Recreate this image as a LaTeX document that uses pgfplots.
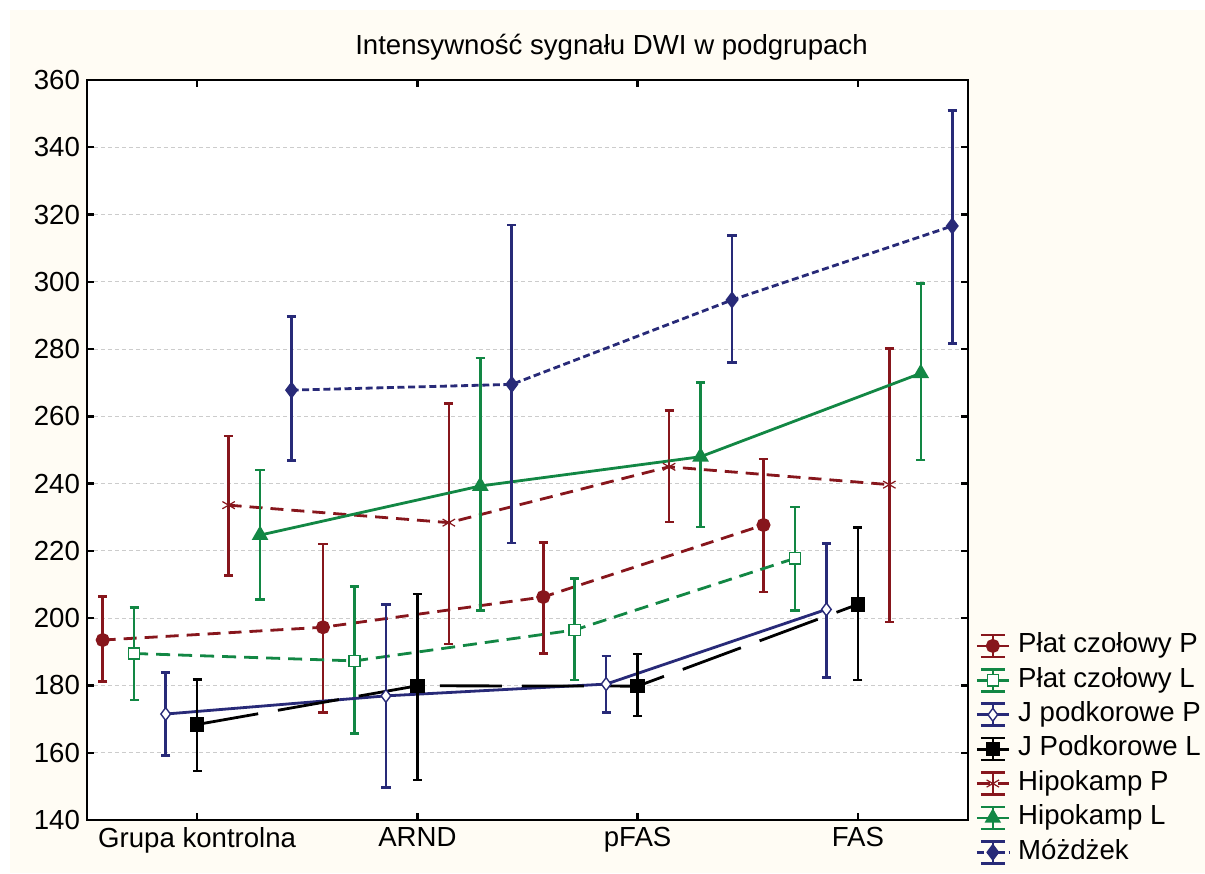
\documentclass[border=0pt]{standalone}
\usepackage{pgfplots}
\pgfplotsset{compat=1.18}
\usepackage{pgfplotstable}
\usepackage{fontspec}
\setmainfont{Liberation Sans}

\definecolor{czerw}{RGB}{135,22,28}
\definecolor{ziel}{RGB}{18,135,68}
\definecolor{gran}{RGB}{40,42,120}
\definecolor{krem}{RGB}{255,252,244}

% x = grupa + przesuniecie serii, y = srednia, lo/hi = konce wasow
\pgfplotstableread{
x y lo hi
-0.4286 193.5 181.1 206.4
0.5714 197.3 171.9 222.0
1.5714 206.3 189.5 222.5
2.5714 227.7 207.8 247.3
}\platP
\pgfplotstableread{
x y lo hi
-0.2857 189.5 175.7 203.2
0.7143 187.3 165.8 209.4
1.7143 196.5 181.6 211.8
2.7143 217.8 202.3 233.1
}\platL
\pgfplotstableread{
x y lo hi
-0.1429 171.5 159.1 183.9
0.8571 176.9 149.7 204.1
1.8571 180.4 171.9 188.8
2.8571 202.6 182.3 222.2
}\jP
\pgfplotstableread{
x y lo hi
0 168.4 154.6 181.8
1 179.9 151.9 207.2
2 179.8 170.9 189.4
3 204.1 181.6 227.0
}\jL
\pgfplotstableread{
x y lo hi
0.1429 233.6 212.7 254.2
1.1429 228.4 192.3 263.9
2.1429 245.0 228.6 261.8
3.1429 239.7 198.9 280.1
}\hipP
\pgfplotstableread{
x y lo hi
0.2857 224.7 205.6 244.1
1.2857 239.3 202.2 277.3
2.2857 248.0 227.1 270.0
3.2857 272.8 247.0 299.5
}\hipL
\pgfplotstableread{
x y lo hi
0.4286 267.8 246.8 289.7
1.4286 269.5 222.4 316.9
2.4286 294.6 276.1 313.8
3.4286 316.6 281.6 351.0
}\mozdzek

\pgfplotsset{
  bledy/.style={
    error bars/y dir=both,
    error bars/y explicit,
    error bars/error bar style={solid,line width=1.3pt},
    error bars/error mark options={rotate=90,mark size=2.3pt,solid,line width=1.3pt},
  },
  leg/.style={legend image code/.code={
    \draw[solid,line width=1.3pt,mark=none] (8pt,-5.5pt) -- (8pt,5.5pt);
    \draw[solid,line width=1.3pt,mark=none] (2pt,5.5pt) -- (14pt,5.5pt);
    \draw[solid,line width=1.3pt,mark=none] (2pt,-5.5pt) -- (14pt,-5.5pt);
    \draw[mark repeat=2,mark phase=2] plot coordinates {(0pt,0pt) (8pt,0pt) (16pt,0pt)};
  }},
  table/dane/.style={x=x,y=y,y error plus expr=\thisrow{hi}-\thisrow{y},y error minus expr=\thisrow{y}-\thisrow{lo}},
}

\begin{document}
\begin{tikzpicture}
\fill[white] (-43.5pt,-26.5pt) rectangle (559pt,410pt);
\fill[krem] (-38.5pt,-26.5pt) rectangle (559pt,405pt);
\node[font=\fontsize{13.8}{16}\selectfont] at (262.25pt,386.5pt) {Intensywność sygnału DWI w podgrupach};
\begin{axis}[
  scale only axis,
  width=440.5pt, height=370pt,
  at={(0,0)}, anchor=south west,
  axis background/.style={fill=white},
  xmin=-0.5, xmax=3.5,
  ymin=140, ymax=360,
  xtick={0,1,2,3},
  xticklabels={Grupa kontrolna,ARND,pFAS,FAS},
  ytick={140,160,...,360},
  tick align=inside,
  tick pos=both,
  major tick length=3.5pt,
  every tick/.style={black,line width=1.2pt},
  axis line style={line width=1.3pt},
  ymajorgrids=true,
  major grid style={gray!40,line width=0.5pt,dash pattern=on 2pt off 1.5pt},
  tick label style={font=\fontsize{13.8}{16}\selectfont},
  /pgf/number format/assume math mode=true,
  legend cell align=left,
  legend style={draw=none,fill=none,at={(axis description cs:1.008,0.259)},anchor=north west,
    font=\fontsize{13.8}{16}\selectfont,row sep=0pt,inner sep=0pt,
    nodes={inner sep=0pt,text height=12pt,text depth=5.2pt},
    /tikz/every odd column/.append style={column sep=4pt}},
]
\addplot[czerw,line width=1.4pt,dash pattern=on 6.5pt off 4pt,mark=*,mark size=2.8pt,mark options={solid},bledy,leg]
  table[dane] {\platP};
\addlegendentry{Płat czołowy P}
\addplot[ziel,line width=1.4pt,dash pattern=on 7pt off 4pt,mark=square*,mark size=2.8pt,mark options={solid,fill=white,line width=0.7pt},bledy,leg]
  table[dane] {\platL};
\addlegendentry{Płat czołowy L}
\addplot[gran,line width=1.4pt,solid,mark=diamond*,mark size=3.2pt,mark options={solid,fill=white,line width=0.7pt},bledy,leg]
  table[dane] {\jP};
\addlegendentry{J podkorowe P}
\addplot[black,line width=1.4pt,dash pattern=on 31pt off 10pt,mark=square*,mark size=2.9pt,mark options={solid},bledy,leg]
  table[dane] {\jL};
\addlegendentry{J Podkorowe L}
\addplot[czerw,line width=1.4pt,dash pattern=on 6.5pt off 4pt,mark=asterisk,mark size=3.6pt,mark options={solid,line width=0.6pt},bledy,leg]
  table[dane] {\hipP};
\addlegendentry{Hipokamp P}
\addplot[ziel,line width=1.4pt,solid,mark=triangle*,mark size=3.4pt,mark options={solid},bledy,leg]
  table[dane] {\hipL};
\addlegendentry{Hipokamp L}
\addplot[gran,line width=1.4pt,dash pattern=on 3.5pt off 1.8pt,mark=diamond*,mark size=3.2pt,mark options={solid},bledy,leg]
  table[dane] {\mozdzek};
\addlegendentry{Móżdżek}
\end{axis}
\end{tikzpicture}
\end{document}
